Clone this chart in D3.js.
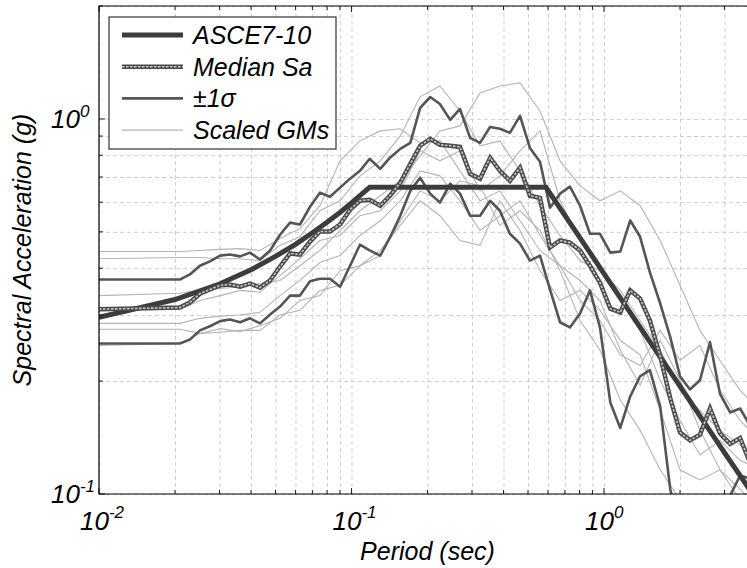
<!DOCTYPE html>
<html>
<head>
<meta charset="utf-8">
<script src="https://cdn.jsdelivr.net/npm/d3@7"></script>
<style>
  body { margin: 0; background: #fff; }
  svg { display: block; font-family: "Liberation Sans", Arial, sans-serif; font-style: italic; }
</style>
</head>
<body>
<div id="chart"></div>
<script>
// periods (sec) for the median and +/- 1 sigma curves
const periods = [0.01, 0.0209, 0.0229, 0.0251, 0.0275, 0.0302, 0.0330, 0.0362, 0.0396, 0.0434,
  0.0476, 0.0521, 0.0571, 0.0625, 0.0685, 0.075, 0.0822, 0.0901, 0.0987, 0.108,
  0.118, 0.130, 0.142, 0.156, 0.171, 0.187, 0.205, 0.224, 0.246, 0.269,
  0.295, 0.323, 0.354, 0.387, 0.424, 0.465, 0.509, 0.558, 0.611, 0.670,
  0.733, 0.804, 0.880, 0.964, 1.06, 1.16, 1.27, 1.39, 1.52, 1.67,
  1.83, 2.00, 2.19, 2.40, 2.63, 2.88, 3.16, 3.46, 3.79, 4.15];

const medianSa = [0.311, 0.314, 0.324, 0.342, 0.351, 0.360, 0.362, 0.357, 0.364, 0.355,
  0.371, 0.404, 0.438, 0.435, 0.471, 0.501, 0.501, 0.523, 0.573, 0.605,
  0.609, 0.587, 0.624, 0.676, 0.759, 0.848, 0.885, 0.853, 0.848, 0.842,
  0.714, 0.693, 0.788, 0.727, 0.684, 0.741, 0.624, 0.616, 0.454, 0.474,
  0.468, 0.446, 0.406, 0.366, 0.312, 0.305, 0.349, 0.332, 0.290, 0.233,
  0.180, 0.146, 0.139, 0.144, 0.169, 0.145, 0.136, 0.141, 0.121, 0.112];

const plusSigmaSa = [0.373, 0.373, 0.385, 0.406, 0.417, 0.432, 0.435, 0.430, 0.440, 0.422,
  0.446, 0.491, 0.529, 0.523, 0.583, 0.636, 0.620, 0.656, 0.693, 0.727,
  0.783, 0.736, 0.788, 0.832, 0.863, 1.070, 1.144, 1.096, 0.994, 1.063,
  0.890, 0.863, 0.952, 0.941, 0.918, 1.019, 0.837, 0.769, 0.580, 0.632,
  0.660, 0.587, 0.494, 0.494, 0.440, 0.443, 0.536, 0.485, 0.390, 0.322,
  0.262, 0.206, 0.190, 0.201, 0.254, 0.185, 0.165, 0.169, 0.152, 0.139];

const minusSigmaSa = [0.252, 0.252, 0.258, 0.273, 0.280, 0.289, 0.292, 0.287, 0.294, 0.285,
  0.301, 0.316, 0.338, 0.338, 0.369, 0.375, 0.375, 0.357, 0.406, 0.462,
  0.446, 0.432, 0.483, 0.552, 0.643, 0.697, 0.632, 0.598, 0.672, 0.632,
  0.552, 0.552, 0.605, 0.569, 0.494, 0.465, 0.419, 0.432, 0.351, 0.287,
  0.278, 0.303, 0.349, 0.278, 0.175, 0.150, 0.182, 0.206, 0.214, 0.171,
  0.103, 0.080, 0.075, 0.067, 0.075, 0.085, 0.099, 0.112, 0.110, 0.106];

// ASCE 7-10 design spectrum
const ascePeriods = [0.01, 0.02, 0.03, 0.04, 0.05, 0.06, 0.07, 0.08, 0.09, 0.1,
  0.118, 0.589, 0.7, 0.8, 1.0, 1.5, 2.0, 3.0, 4.0];
const asceSa = [0.296, 0.330, 0.363, 0.396, 0.430, 0.463, 0.497, 0.530, 0.563, 0.597,
  0.657, 0.657, 0.553, 0.484, 0.387, 0.258, 0.194, 0.129, 0.097];

// scaled ground motions
const gmPeriods = [0.01, 0.0209, 0.0251, 0.0302, 0.0362, 0.0434, 0.0521, 0.0625, 0.075, 0.0901,
  0.108, 0.130, 0.156, 0.187, 0.224, 0.269, 0.323, 0.387, 0.465, 0.558,
  0.670, 0.804, 0.964, 1.16, 1.39, 1.67, 2.00, 2.40, 2.88, 3.46, 4.15];
const gm1 = [0.443, 0.443, 0.446, 0.449, 0.451, 0.446, 0.480, 0.510, 0.587, 0.773,
  0.874, 0.929, 0.941, 0.863, 0.874, 0.727, 0.605, 0.643, 0.535, 0.446,
  0.406, 0.371, 0.328, 0.242, 0.195, 0.257, 0.201, 0.148, 0.116, 0.0964, 0.0853];
const gm2 = [0.424, 0.427, 0.427, 0.424, 0.424, 0.419, 0.460, 0.486, 0.569, 0.605,
  0.705, 0.773, 0.901, 1.145, 1.224, 1.050, 0.848, 0.874, 0.727, 0.587,
  0.489, 0.419, 0.394, 0.328, 0.273, 0.201, 0.157, 0.127, 0.139, 0.123, 0.116];
const gm3 = [0.338, 0.343, 0.349, 0.353, 0.357, 0.364, 0.371, 0.406, 0.446, 0.504,
  0.569, 0.624, 0.684, 0.797, 0.929, 0.958, 1.172, 1.224, 1.247, 1.050,
  0.773, 0.663, 0.605, 0.643, 0.587, 0.474, 0.360, 0.273, 0.227, 0.189, 0.167];
const gm4 = [0.309, 0.311, 0.328, 0.338, 0.349, 0.345, 0.382, 0.424, 0.474, 0.489,
  0.552, 0.569, 0.643, 0.822, 0.773, 0.822, 0.643, 0.705, 0.822, 0.929,
  0.605, 0.474, 0.394, 0.349, 0.290, 0.242, 0.189, 0.167, 0.148, 0.135, 0.123];
const gm5 = [0.285, 0.285, 0.294, 0.298, 0.300, 0.305, 0.338, 0.371, 0.414, 0.432,
  0.489, 0.535, 0.605, 0.727, 0.705, 0.605, 0.504, 0.552, 0.605, 0.489,
  0.406, 0.328, 0.290, 0.235, 0.220, 0.273, 0.227, 0.249, 0.189, 0.157, 0.139];
const gm6 = [0.275, 0.275, 0.268, 0.276, 0.271, 0.281, 0.294, 0.328, 0.338, 0.394,
  0.406, 0.446, 0.520, 0.605, 0.552, 0.474, 0.460, 0.605, 0.504, 0.394,
  0.328, 0.349, 0.309, 0.257, 0.235, 0.167, 0.116, 0.109, 0.116, 0.103, 0.0907];
const gm7 = [0.249, 0.252, 0.268, 0.270, 0.273, 0.273, 0.300, 0.309, 0.349, 0.360,
  0.406, 0.432, 0.535, 0.643, 0.605, 0.684, 0.663, 0.520, 0.569, 0.504,
  0.394, 0.290, 0.242, 0.178, 0.148, 0.116, 0.0964, 0.0853, 0.0935, 0.088, 0.0802];
const groundMotions = [gm1, gm2, gm3, gm4, gm5, gm6, gm7];

const legendLabels = ['ASCE7-10', 'Median Sa', '\u00b11\u03c3', 'Scaled GMs'];
const xDecades = [0.01, 0.1, 1];
const yDecades = [0.1, 1];
const xDomain = [0.01, 4];
const yDomain = [0.1, 2];

const colors = {
  asce: '#3c3c3c',
  median: '#4a4a4a',
  sigma: '#555555',
  gm: '#b4b4b4',
  grid: '#cfcfcf'
};

function buildChart() {
  const width = 747;
  const height = 568;
  const margin = { left: 99, top: 6, bottom: 74 };
  const plotRight = 756;
  const plotBottom = height - margin.bottom;

  const svg = d3.select('#chart')
    .append('svg')
    .attr('width', width)
    .attr('height', height);

  const x = d3.scaleLog().domain(xDomain).range([margin.left, plotRight]);
  const y = d3.scaleLog().domain(yDomain).range([plotBottom, margin.top]);

  const isDecade = v => Math.abs(Math.log10(v) - Math.round(Math.log10(v))) < 1e-6;
  const xTicks = x.ticks().filter(v => v >= xDomain[0] && v <= xDomain[1]);
  const yTicks = y.ticks().filter(v => v >= yDomain[0] && v <= yDomain[1]);

  // dashed grid
  svg.append('g')
    .attr('transform', `translate(0, ${plotBottom})`)
    .call(d3.axisBottom(x).tickValues(xTicks).tickSize(-(plotBottom - margin.top)).tickFormat(''))
    .call(g => g.select('.domain').remove())
    .selectAll('line')
    .attr('stroke', colors.grid)
    .attr('stroke-dasharray', '4,3');

  svg.append('g')
    .attr('transform', `translate(${margin.left}, 0)`)
    .call(d3.axisLeft(y).tickValues(yTicks).tickSize(-(plotRight - margin.left)).tickFormat(''))
    .call(g => g.select('.domain').remove())
    .selectAll('line')
    .attr('stroke', colors.grid)
    .attr('stroke-dasharray', '4,3');

  // curves
  svg.append('clipPath').attr('id', 'plot-clip')
    .append('rect')
    .attr('x', margin.left)
    .attr('y', margin.top)
    .attr('width', plotRight - margin.left)
    .attr('height', plotBottom - margin.top);

  const plot = svg.append('g').attr('clip-path', 'url(#plot-clip)');

  const line = d3.line()
    .x(d => x(d[0]))
    .y(d => y(d[1]));

  const pairs = (ps, vs) => ps.map((p, i) => [p, vs[i]]);

  plot.selectAll('.gm')
    .data(groundMotions)
    .join('path')
    .attr('class', 'gm')
    .attr('d', d => line(pairs(gmPeriods, d)))
    .attr('fill', 'none')
    .attr('stroke', colors.gm)
    .attr('stroke-width', 1.1);

  plot.selectAll('.sigma')
    .data([plusSigmaSa, minusSigmaSa])
    .join('path')
    .attr('class', 'sigma')
    .attr('d', d => line(pairs(periods, d)))
    .attr('fill', 'none')
    .attr('stroke', colors.sigma)
    .attr('stroke-width', 2.6)
    .attr('stroke-linejoin', 'round');

  plot.append('path')
    .attr('d', line(pairs(ascePeriods, asceSa)))
    .attr('fill', 'none')
    .attr('stroke', colors.asce)
    .attr('stroke-width', 5);

  const medianPath = line(pairs(periods, medianSa));
  plot.append('path')
    .attr('d', medianPath)
    .attr('fill', 'none')
    .attr('stroke', colors.median)
    .attr('stroke-width', 4.5);
  plot.append('path')
    .attr('d', medianPath)
    .attr('fill', 'none')
    .attr('stroke', '#c8c8c8')
    .attr('stroke-width', 1.6)
    .attr('stroke-dasharray', '2.5,1.5');

  // axis frame and inward ticks
  const tickLen = v => isDecade(v) ? 6 : 4;
  const ticks = svg.append('g').attr('stroke', '#222').attr('stroke-width', 1);

  ticks.selectAll('.xb').data(xTicks).join('line')
    .attr('x1', d => x(d)).attr('x2', d => x(d))
    .attr('y1', plotBottom).attr('y2', d => plotBottom - tickLen(d));
  ticks.selectAll('.xt').data(xTicks).join('line')
    .attr('x1', d => x(d)).attr('x2', d => x(d))
    .attr('y1', margin.top).attr('y2', d => margin.top + tickLen(d));
  ticks.selectAll('.yl').data(yTicks).join('line')
    .attr('y1', d => y(d)).attr('y2', d => y(d))
    .attr('x1', margin.left).attr('x2', d => margin.left + tickLen(d));

  svg.append('path')
    .attr('d', `M${plotRight},${margin.top}H${margin.left}V${plotBottom}H${plotRight}`)
    .attr('fill', 'none')
    .attr('stroke', '#000')
    .attr('stroke-width', 1.2);

  // tick labels 10^n
  function powerLabel(sel, v, dy) {
    sel.append('tspan').text('10');
    sel.append('tspan')
      .attr('dy', dy)
      .attr('font-size', 17)
      .text(Math.round(Math.log10(v)));
  }

  xDecades.forEach(v => {
    svg.append('text')
      .attr('x', x(v) - 19)
      .attr('y', plotBottom + 36)
      .attr('font-size', 26)
      .call(powerLabel, v, -12);
  });

  yDecades.forEach(v => {
    svg.append('text')
      .attr('x', 51)
      .attr('y', y(v) + 9)
      .attr('font-size', 26)
      .call(powerLabel, v, -11);
  });

  // axis titles
  svg.append('text')
    .attr('x', (margin.left + plotRight) / 2)
    .attr('y', plotBottom + 66)
    .attr('text-anchor', 'middle')
    .attr('font-size', 25)
    .text('Period (sec)');

  svg.append('text')
    .attr('transform', `translate(31, ${(margin.top + plotBottom) / 2}) rotate(-90)`)
    .attr('text-anchor', 'middle')
    .attr('font-size', 25)
    .text('Spectral Acceleration (g)');

  // legend
  const legend = svg.append('g').attr('id', 'legend');
  legend.append('rect')
    .attr('x', 109).attr('y', 17)
    .attr('width', 227).attr('height', 132)
    .attr('fill', '#fff')
    .attr('stroke', '#333')
    .attr('stroke-width', 1.2);

  const rowY = i => 35 + i * 31.7;
  const sampleStyles = [
    { stroke: colors.asce, width: 5 },
    { stroke: colors.median, width: 4.5 },
    { stroke: colors.sigma, width: 2.6 },
    { stroke: colors.gm, width: 1.1 }
  ];

  legendLabels.forEach((label, i) => {
    legend.append('line')
      .attr('x1', 122).attr('x2', 183)
      .attr('y1', rowY(i)).attr('y2', rowY(i))
      .attr('stroke', sampleStyles[i].stroke)
      .attr('stroke-width', sampleStyles[i].width);
    if (i === 1) {
      legend.append('line')
        .attr('x1', 122).attr('x2', 183)
        .attr('y1', rowY(i)).attr('y2', rowY(i))
        .attr('stroke', '#c8c8c8')
        .attr('stroke-width', 1.6)
        .attr('stroke-dasharray', '2.5,1.5');
    }
    legend.append('text')
      .attr('x', 193)
      .attr('y', rowY(i) + 9)
      .attr('font-size', 25)
      .text(label);
  });
}

buildChart();
</script>
</body>
</html>
